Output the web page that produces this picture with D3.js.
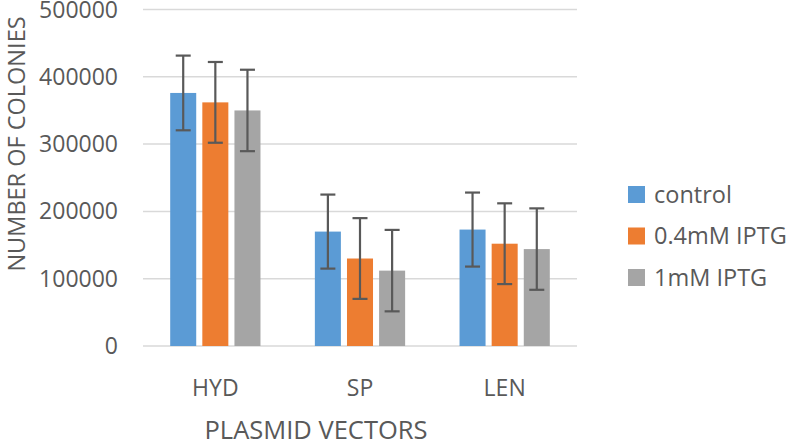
<!DOCTYPE html>
<html><head><meta charset="utf-8">
<script src="https://cdn.jsdelivr.net/npm/d3@7"></script>
<style>body{margin:0;background:#fff}svg{display:block}text{font-family:"Open Sans",sans-serif;fill:#595959}</style>
</head><body>
<svg id="c" width="787" height="448"></svg>
<script>
const categories = ["HYD", "SP", "LEN"];
const seriesNames = ["control", "0.4mM IPTG", "1mM IPTG"];
const control = [376000, 170000, 173000];
const iptg04 = [362000, 130000, 152000];
const iptg1 = [350000, 112000, 144000];
const errControl = [55500, 55000, 55000];
const errIptg04 = [60000, 60000, 60000];
const errIptg1 = [60500, 60500, 60500];
const yTicks = [0, 100000, 200000, 300000, 400000, 500000];
const colors = ["#5b9bd5", "#ed7d31", "#a5a5a5"];

const values = [control, iptg04, iptg1];
const errs = [errControl, errIptg04, errIptg1];

const svg = d3.select("#c");
const y = d3.scaleLinear().domain([0, 500000]).range([346, 9.5]);
const x0 = d3.scaleBand().domain(categories).range([143, 577]).paddingInner(0).paddingOuter(0);
const x1 = d3.scaleBand().domain(seriesNames).range([x0.bandwidth()*0.188, x0.bandwidth()*0.812]).paddingInner(0.19).paddingOuter(0);

// gridlines
svg.append("g").selectAll("line").data(yTicks).join("line")
  .attr("x1", 143).attr("x2", 577)
  .attr("y1", d => y(d)).attr("y2", d => y(d))
  .attr("stroke", "#d9d9d9").attr("stroke-width", 1.5);

// y labels
svg.append("g").selectAll("text").data(yTicks).join("text")
  .attr("x", 118).attr("y", d => y(d)).attr("dy", "0.35em")
  .attr("text-anchor", "end").style("font-size", "23px")
  .text(d => d);

// bars
const rows = [];
categories.forEach((c, i) => seriesNames.forEach((s, j) => rows.push({c, s, v: values[j][i], e: errs[j][i], col: colors[j]})));
const g = svg.append("g");
g.selectAll("rect").data(rows).join("rect")
  .attr("x", d => x0(d.c) + x1(d.s)).attr("width", x1.bandwidth())
  .attr("y", d => y(d.v)).attr("height", d => y(0) - y(d.v))
  .attr("fill", d => d.col);

// error bars
const eb = svg.append("g").attr("stroke", "#595959").attr("stroke-width", 2.2);
rows.forEach(d => {
  const cx = x0(d.c) + x1(d.s) + x1.bandwidth()/2;
  eb.append("line").attr("x1", cx).attr("x2", cx).attr("y1", y(d.v + d.e)).attr("y2", y(d.v - d.e));
  eb.append("line").attr("x1", cx-7.5).attr("x2", cx+7.5).attr("y1", y(d.v + d.e)).attr("y2", y(d.v + d.e));
  eb.append("line").attr("x1", cx-7.5).attr("x2", cx+7.5).attr("y1", y(d.v - d.e)).attr("y2", y(d.v - d.e));
});

// x labels
svg.append("g").selectAll("text").data(categories).join("text")
  .attr("x", d => x0(d) + x0.bandwidth()/2).attr("y", 396)
  .attr("text-anchor", "middle").style("font-size", "23px").text(d => d);

// axis titles
svg.append("text").attr("x", 316).attr("y", 439).attr("text-anchor", "middle")
  .style("font-size", "25.5px").text("PLASMID VECTORS");
svg.append("text").attr("transform", "translate(25,144) rotate(-90)").attr("text-anchor", "middle")
  .style("font-size", "23.5px").text("NUMBER OF COLONIES");

// legend
const lg = svg.append("g").selectAll("g").data(seriesNames).join("g")
  .attr("transform", (d, i) => `translate(628,${186 + i*41.5})`);
lg.append("rect").attr("width", 17).attr("height", 17).attr("fill", (d, i) => colors[i]);
lg.append("text").attr("x", 26).attr("y", 8.5).attr("dy", "0.36em").style("font-size", "23.5px").text(d => d);
</script>
</body></html>
